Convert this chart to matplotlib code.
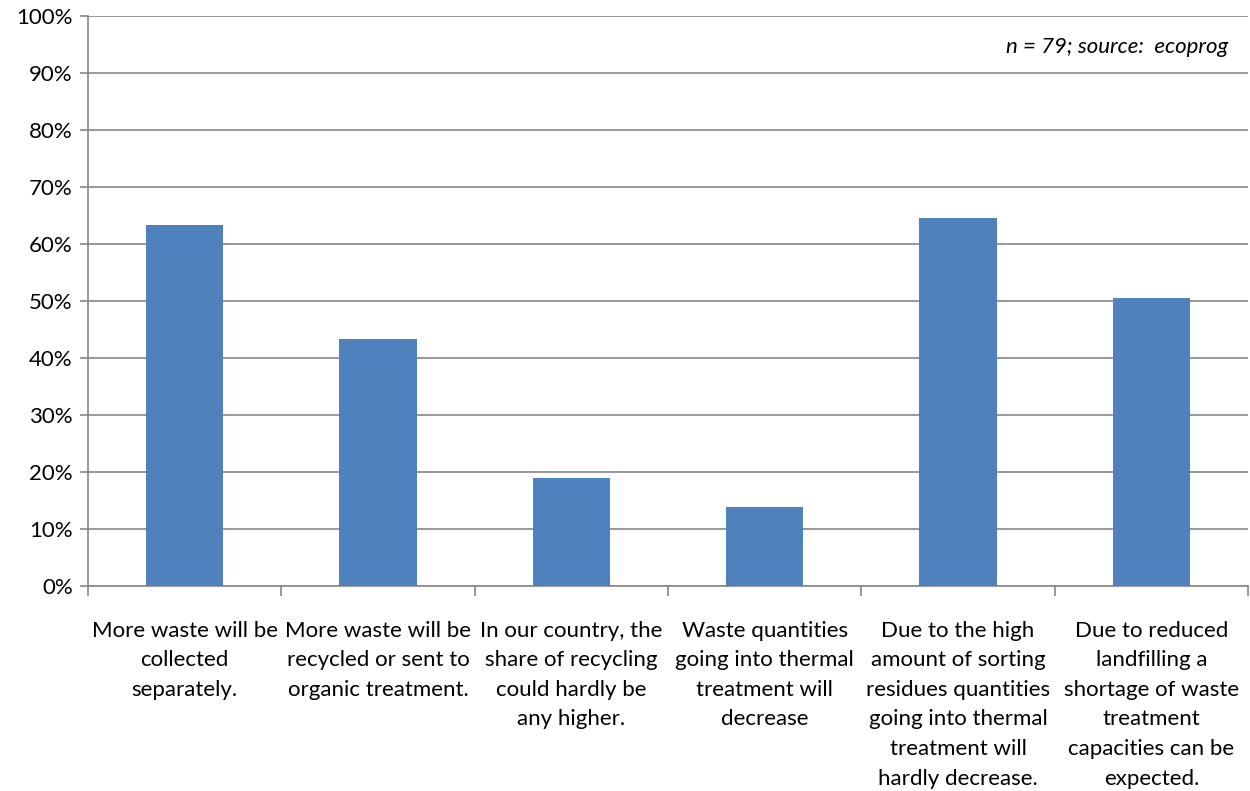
import matplotlib.pyplot as plt
import numpy as np
from matplotlib.ticker import PercentFormatter, MultipleLocator, FixedLocator

categories = [
    "More waste will be\ncollected\nseparately.",
    "More waste will be\nrecycled or sent to\norganic treatment.",
    "In our country, the\nshare of recycling\ncould hardly be\nany higher.",
    "Waste quantities\ngoing into thermal\ntreatment will\ndecrease",
    "Due to the high\namount of sorting\nresidues quantities\ngoing into thermal\ntreatment will\nhardly decrease.",
    "Due to reduced\nlandfilling a\nshortage of waste\ntreatment\ncapacities can be\nexpected.",
]
shares = [63.3, 43.3, 19.0, 13.9, 64.6, 50.6]
note = "n = 79; source:  ecoprog"

plt.rcParams['font.family'] = ['Lato', 'DejaVu Sans']
grid_col = '#868686'

fig = plt.figure(figsize=(12.5, 7.91), dpi=100)
ax = fig.add_axes([0.0704, 0.2592, 0.928, 0.7206])

x = np.arange(len(categories))
ax.bar(x, shares, width=0.4, color='#4F81BD', zorder=3)

ax.set_xlim(-0.5, len(categories) - 0.5)
ax.set_ylim(0, 100)
ax.yaxis.set_major_locator(MultipleLocator(10))
ax.yaxis.set_major_formatter(PercentFormatter(decimals=0))
ax.grid(axis='y', color=grid_col, linewidth=1.2, zorder=0)

# category labels hang below the axis, boundaries marked with minor ticks
ax.set_xticks(x)
ax.set_xticklabels(categories, fontsize=16, linespacing=1.6, va='top')
ax.xaxis.set_minor_locator(FixedLocator(np.arange(-0.5, len(categories), 1.0)))
ax.tick_params(axis='x', which='major', length=0, pad=25)
ax.tick_params(axis='x', which='minor', length=7, color=grid_col, width=1.2)
ax.tick_params(axis='y', length=6, color=grid_col, width=1.2, labelsize=16, pad=5)

for side in ('top', 'right'):
    ax.spines[side].set_visible(False)
for side in ('left', 'bottom'):
    ax.spines[side].set_color(grid_col)
    ax.spines[side].set_linewidth(1.2)

ax.text(0.983, 0.945, note, transform=ax.transAxes, ha='right', va='center',
        fontsize=16, style='italic')

fig.savefig('out.png', dpi=100)
